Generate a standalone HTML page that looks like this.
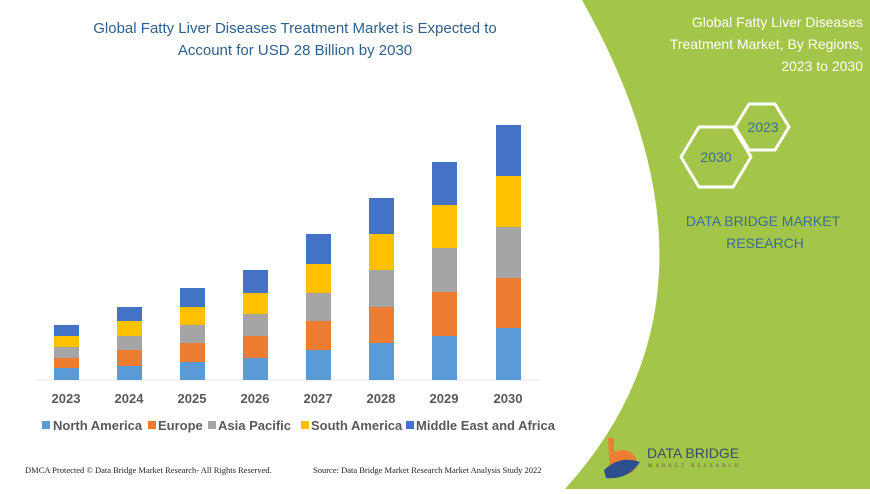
<!DOCTYPE html>
<html><head><meta charset="utf-8"><style>
body{margin:0;width:870px;height:489px;overflow:hidden;background:#fff;font-family:"Liberation Sans",sans-serif;}
</style></head><body>
<svg width="870" height="489" viewBox="0 0 870 489" xmlns="http://www.w3.org/2000/svg">
<rect width="870" height="489" fill="#fff"/>
<path d="M582,0 L870,0 L870,489 L565,489 Q745,290 582,0 Z" fill="#a3c54a"/>
<g font-family="Liberation Sans" font-size="15" fill="#2f5f8a" text-anchor="middle">
<text x="295" y="33">Global Fatty Liver Diseases Treatment Market is Expected to</text>
<text x="295" y="55">Account for USD 28 Billion by 2030</text>
</g>
<g font-family="Liberation Sans" font-size="14" fill="#fff" text-anchor="end">
<text x="863" y="27">Global Fatty Liver Diseases</text>
<text x="863" y="49">Treatment Market, By Regions,</text>
<text x="863" y="71">2023 to 2030</text>
</g>
<polygon points="789,127 775,150 749,150 735,127 749,104 775,104" fill="none" stroke="#fff" stroke-width="3"/>
<polygon points="751,157 733,187 699,187 681,157 699,127 733,127" fill="none" stroke="#fff" stroke-width="3"/>
<g font-family="Liberation Sans" font-size="14" fill="#3b6e8f" text-anchor="middle">
<text x="763" y="132">2023</text>
<text x="716" y="162">2030</text>
<text x="763" y="226">DATA BRIDGE MARKET</text>
<text x="765" y="248">RESEARCH</text>
</g>
<line x1="35" y1="380" x2="540" y2="380" stroke="#e6e6e6"/>
<g>
<rect x="54" y="368" width="25" height="12" fill="#5b9bd5"/><rect x="54" y="358" width="25" height="10" fill="#ed7d31"/><rect x="54" y="347" width="25" height="11" fill="#a5a5a5"/><rect x="54" y="336" width="25" height="11" fill="#ffc000"/><rect x="54" y="325" width="25" height="11" fill="#4472c4"/>
<rect x="117" y="366" width="25" height="14" fill="#5b9bd5"/><rect x="117" y="350" width="25" height="16" fill="#ed7d31"/><rect x="117" y="336" width="25" height="14" fill="#a5a5a5"/><rect x="117" y="321" width="25" height="15" fill="#ffc000"/><rect x="117" y="307" width="25" height="14" fill="#4472c4"/>
<rect x="180" y="362" width="25" height="18" fill="#5b9bd5"/><rect x="180" y="343" width="25" height="19" fill="#ed7d31"/><rect x="180" y="325" width="25" height="18" fill="#a5a5a5"/><rect x="180" y="307" width="25" height="18" fill="#ffc000"/><rect x="180" y="288" width="25" height="19" fill="#4472c4"/>
<rect x="243" y="358" width="25" height="22" fill="#5b9bd5"/><rect x="243" y="336" width="25" height="22" fill="#ed7d31"/><rect x="243" y="314" width="25" height="22" fill="#a5a5a5"/><rect x="243" y="293" width="25" height="21" fill="#ffc000"/><rect x="243" y="270" width="25" height="23" fill="#4472c4"/>
<rect x="306" y="350" width="25" height="30" fill="#5b9bd5"/><rect x="306" y="321" width="25" height="29" fill="#ed7d31"/><rect x="306" y="293" width="25" height="28" fill="#a5a5a5"/><rect x="306" y="264" width="25" height="29" fill="#ffc000"/><rect x="306" y="234" width="25" height="30" fill="#4472c4"/>
<rect x="369" y="343" width="25" height="37" fill="#5b9bd5"/><rect x="369" y="307" width="25" height="36" fill="#ed7d31"/><rect x="369" y="270" width="25" height="37" fill="#a5a5a5"/><rect x="369" y="234" width="25" height="36" fill="#ffc000"/><rect x="369" y="198" width="25" height="36" fill="#4472c4"/>
<rect x="432" y="336" width="25" height="44" fill="#5b9bd5"/><rect x="432" y="292" width="25" height="44" fill="#ed7d31"/><rect x="432" y="248" width="25" height="44" fill="#a5a5a5"/><rect x="432" y="205" width="25" height="43" fill="#ffc000"/><rect x="432" y="162" width="25" height="43" fill="#4472c4"/>
<rect x="496" y="328" width="25" height="52" fill="#5b9bd5"/><rect x="496" y="278" width="25" height="50" fill="#ed7d31"/><rect x="496" y="227" width="25" height="51" fill="#a5a5a5"/><rect x="496" y="176" width="25" height="51" fill="#ffc000"/><rect x="496" y="125" width="25" height="51" fill="#4472c4"/>
</g>
<g font-family="Liberation Sans" font-size="13" font-weight="bold" fill="#595959" text-anchor="middle">
<text x="66" y="403">2023</text><text x="129" y="403">2024</text><text x="192" y="403">2025</text><text x="255" y="403">2026</text><text x="318" y="403">2027</text><text x="381" y="403">2028</text><text x="444" y="403">2029</text><text x="508" y="403">2030</text>
</g>
<g font-family="Liberation Sans" font-size="13" font-weight="bold" fill="#595959">
<rect x="42" y="421" width="8" height="8" fill="#5b9bd5"/><text x="53" y="430">North America</text>
<rect x="148" y="421" width="8" height="8" fill="#ed7d31"/><text x="158" y="430">Europe</text>
<rect x="208" y="421" width="8" height="8" fill="#a5a5a5"/><text x="218" y="430">Asia Pacific</text>
<rect x="301" y="421" width="8" height="8" fill="#ffc000"/><text x="311" y="430">South America</text>
<rect x="406" y="421" width="8" height="8" fill="#4472c4"/><text x="416" y="430">Middle East and Africa</text>
</g>
<g font-family="Liberation Serif" font-size="8.5" fill="#222">
<text x="25" y="473">DMCA Protected © Data Bridge Market Research- All Rights Reserved.</text>
<text x="313" y="473">Source: Data Bridge Market Research Market Analysis Study 2022</text>
</g>
<path d="M608,438 L614,438 L614,452 Q628,446 636,458 Q640,470 628,474 L610,474 Z" fill="#ed7d31"/>
<path d="M604,470 Q620,455 640,462 Q628,480 606,478 Z" fill="#2c4f8e"/>
<text x="647" y="458" font-family="Liberation Sans" font-size="14" fill="#3a4b6a">DATA BRIDGE</text>
<text x="648" y="467" font-family="Liberation Serif" font-size="5" fill="#555" letter-spacing="3">MARKET RESEARCH</text>
</svg>
</body></html>
